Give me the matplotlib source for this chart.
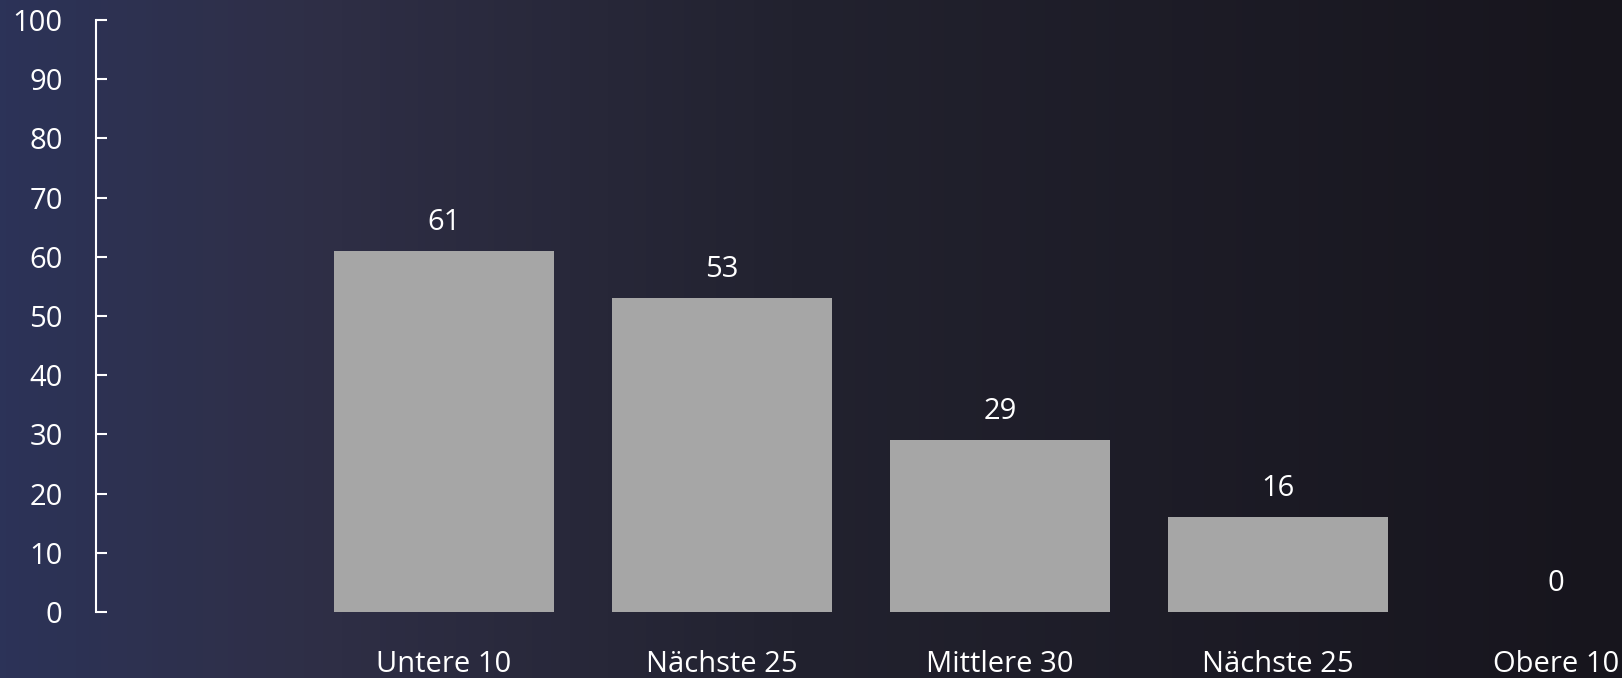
import numpy as np
import matplotlib
matplotlib.use("Agg")
import matplotlib.pyplot as plt
from matplotlib.colors import LinearSegmentedColormap

categories = ["Untere 10", "Nächste 25", "Mittlere 30", "Nächste 25", "Obere 10"]
values = [61, 53, 29, 16, 0]
yticks = [0, 10, 20, 30, 40, 50, 60, 70, 80, 90, 100]

plt.rcParams['font.family'] = ['Open Sans', 'DejaVu Sans']

W, H = 1622, 678
fig = plt.figure(figsize=(W / 100, H / 100), dpi=100)

# background gradient
bg = fig.add_axes([0, 0, 1, 1])
cmap = LinearSegmentedColormap.from_list(
    "bg", [(0.0, "#2c3358"), (0.185, "#2f2f47"), (0.49, "#22222f"), (1.0, "#17151d")])
grad = np.linspace(0, 1, 512).reshape(1, -1)
bg.imshow(grad, aspect="auto", cmap=cmap, extent=[0, 1, 0, 1])
bg.set_axis_off()

# axes geometry in pixels
x_spine = 96
y0 = 612
y100 = 20
c0 = 444
step = 278
left = x_spine / W
bottom = (H - y0) / H
height = (y0 - y100) / H
ax = fig.add_axes([left, bottom, 1 - left, height])
ax.patch.set_alpha(0)

xmin = (x_spine - c0) / step
xmax = (W - c0) / step
x = np.arange(len(categories))
bars = ax.bar(x, values, width=0.79, color="#a6a6a6")
ax.set_xlim(xmin, xmax)
ax.set_ylim(0, 100)

for xi, v in zip(x, values):
    ax.annotate(str(v), (xi, v), xytext=(0, 10), textcoords="offset points",
                ha="center", va="bottom", color="white", fontsize=21)

ax.set_xticks(x)
ax.set_xticklabels(categories)
ax.set_yticks(yticks)
for s in ["top", "right", "bottom"]:
    ax.spines[s].set_visible(False)
ax.spines["left"].set_color("white")
ax.spines["left"].set_linewidth(1.5)
ax.tick_params(axis="y", direction="in", length=8, width=1.5, colors="white",
               labelsize=21, pad=24)
ax.tick_params(axis="x", length=0, colors="white", labelsize=21, pad=27)

fig.savefig("out.png", dpi=100)
